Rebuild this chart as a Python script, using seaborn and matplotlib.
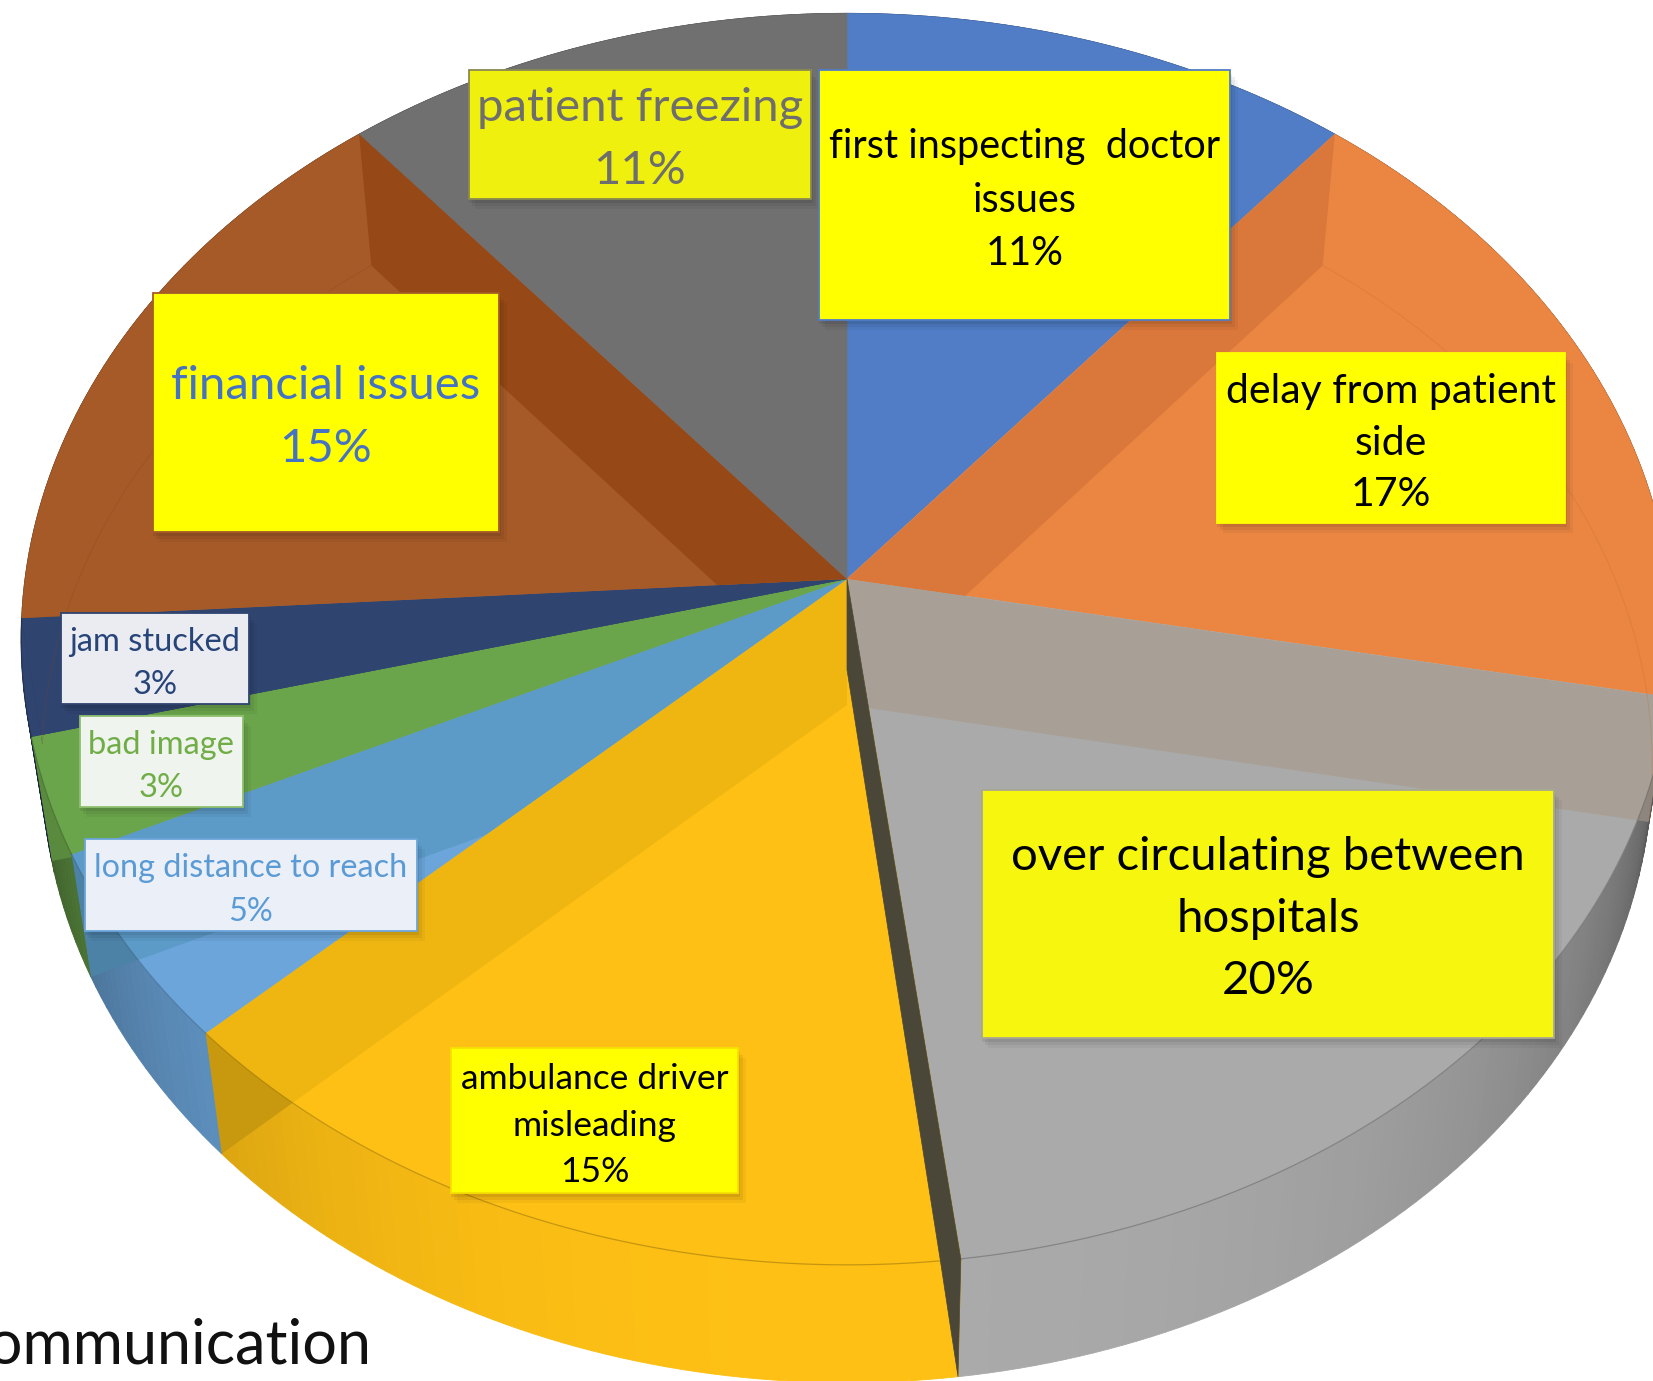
import numpy as np
import seaborn as sns
import matplotlib.pyplot as plt
from matplotlib.patches import Polygon, Rectangle

# %% data
labels = ["first inspecting  doctor\nissues", "delay from patient\nside",
          "over circulating between\nhospitals", "ambulance driver\nmisleading",
          "long distance to reach", "bad image", "jam stucked",
          "financial issues", "patient freezing"]
values = [11, 17, 20, 15, 5, 3, 3, 15, 11]

face_hex = ["#507dc6", "#ea8641", "#aaaaaa", "#fec014", "#6ba5da",
            "#6ba54b", "#2f446f", "#a55a28", "#707070"]
band_hex = ["#507dc6", "#da783c", "#a8a097", "#efb612", "#5c9bc8",
            "#6ba54b", "#2f446f", "#964816", "#707070"]

# label boxes (x0, x1, y0, y1 in pixels)
boxes = [(819, 1230, 70, 320), (1217, 1565, 353, 523), (982, 1554, 790, 1038),
         (451, 738, 1048, 1193), (85, 417, 839, 931), (80, 243, 716, 807),
         (61, 249, 613, 704), (153, 499, 293, 532), (469, 811, 70, 199)]
box_fill = ["#ffff00", "#ffff00", "#f6f60f", "#ffff00", "#ebf0f8",
            "#eff5ee", "#ebebf2", "#ffff00", "#f0f00f"]
box_edge = ["#507dc6", "#ffff00", "#a8a890", "#f5e000", "#6ba5da",
            "#8fc070", "#2f446f", "#a55a28", "#8a8a50"]
text_col = ["black", "black", "black", "black", "#5b9bd5",
            "#70ad47", "#264478", "#4472c4", "#6e6e6e"]
text_pt = [28.5, 29.5, 34, 25.5, 23.3, 23.5, 23.5, 34, 34]
text_gap = [1.54, 1.49, 1.58, 1.57, 1.58, 1.53, 1.53, 1.61, 1.61]

# pie geometry in pixels
CX, CY, RX, RY, PERSP = 847, 579, 822, 620, 0.096
DROP, XS, YS = 126, 0.975, 0.988

sns.set_theme(style="white")
plt.rcParams["font.family"] = ["Lato", "DejaVu Sans"]


def upper(theta):
    t = np.radians(theta)
    d = 1 + PERSP * np.sin(t)
    return np.column_stack([CX + RX * np.cos(t) / d, CY - RY * np.sin(t) / d])


def lower(theta):
    p = upper(theta)
    return np.column_stack([CX + XS * (p[:, 0] - CX), CY + DROP + YS * (p[:, 1] - CY)])


def shade(theta):
    d = np.abs(((theta - 270) + 180) % 360 - 180)   # degrees away from the front
    return np.clip(1 - 0.5 * (d / 80) ** 2.4, 0.3, 1)


# %% pie
fig = plt.figure(figsize=(16.53, 13.81), dpi=100)
ax = fig.add_axes([0, 0, 1, 1])
wedges, _ = ax.pie(values, colors=sns.color_palette(face_hex), startangle=90,
                   counterclock=False)
ax.set_aspect("auto")
ax.set_xlim(0, 1653)
ax.set_ylim(1381, 0)
ax.axis("off")

faces = sns.color_palette(face_hex)
bands = sns.color_palette(band_hex)
centre = np.array([[CX, CY]])
low_centre = np.array([[CX, CY + DROP]])

# side wall first, everything else paints over it
for w, col in zip(wedges, faces):
    w.set_visible(False)
    th = np.linspace(w.theta1, w.theta2, max(int(w.theta2 - w.theta1), 2) + 1)
    up, lo = upper(th), lower(th)
    for k in range(len(th) - 1):
        c = np.array(col) * shade((th[k] + th[k + 1]) / 2)
        ax.add_patch(Polygon([up[k], up[k + 1], lo[k + 1], lo[k]], fc=c, ec=c, lw=0.6, zorder=1))

for i, (w, fc, bc) in enumerate(zip(wedges, faces, bands)):
    th = np.linspace(w.theta1, w.theta2, 80)
    mid = (w.theta1 + w.theta2) / 2
    up, lo = upper(th), lower(th)
    ax.add_patch(Polygon(np.vstack([centre, up]), fc=fc, ec=fc, lw=0.5, zorder=2))

    # darker band along the radial edge that faces up the picture
    right_half = np.cos(np.radians(mid)) > 0
    front = np.sin(np.radians(mid)) < 0
    edge = w.theta2 if right_half else w.theta1
    rim_a, rim_b = upper(np.array([edge])), lower(np.array([edge]))
    quad = np.vstack([centre, rim_a, rim_b, low_centre])
    band = Polygon(quad, fc=bc, ec="none", zorder=3)
    ax.add_patch(band)
    if front:
        clip = Polygon(np.vstack([centre, up[:1], lo, up[-1:]]), transform=ax.transData)
    else:
        clip = Polygon(np.vstack([centre, up]), transform=ax.transData)
    band.set_clip_path(clip)

    if front:
        # the band is darker again where it crosses the side wall
        over_wall = Polygon(quad, fc="black", alpha=0.16, ec="none", zorder=3.5)
        ax.add_patch(over_wall)
        over_wall.set_clip_path(Polygon(np.vstack([up, lo[::-1]]), transform=ax.transData))

    # faint arcs: front rim, and the bottom circle seen through at the back
    if front:
        ax.plot(up[:, 0], up[:, 1], color=np.array(fc) * 0.6, lw=0.9, alpha=0.55, zorder=4)
    elif i != 0 and i != 8:
        ax.plot(lo[:, 0], lo[:, 1], color=np.array(fc) * 0.8, lw=0.8, alpha=0.25, zorder=4)

# dark wall where the grey slice is pulled out
split = wedges[2].theta1
a0, a1 = upper(np.array([split])), lower(np.array([split]))
a2 = upper(np.array([split - 1.3]))
knee = np.array([[CX, CY + DROP * 0.72]])
ax.add_patch(Polygon(np.vstack([centre, a0, a1, a2, knee]), fc="#4b4738", ec="#4b4738",
                     lw=0.5, zorder=5))

# %% labels
for (x0, x1, y0, y1), fill, edge, tc, pt, gap, name, v in zip(
        boxes, box_fill, box_edge, text_col, text_pt, text_gap, labels, values):
    for k, off in enumerate([10, 7, 4]):
        ax.add_patch(Rectangle((x0 + off - 4, y0 + off), x1 - x0 + 2, y1 - y0, fc="black",
                               alpha=0.04 + 0.015 * k, ec="none", zorder=6))
    ax.add_patch(Rectangle((x0, y0), x1 - x0, y1 - y0, fc=fill, ec=edge, lw=1.3, zorder=7))
    ax.text((x0 + x1) / 2, (y0 + y1) / 2 + 5, f"{name}\n{v}%", ha="center", va="center",
            color=tc, fontsize=pt, linespacing=gap, zorder=8)

ax.text(371, 1364, "Communication", ha="right", va="baseline", fontsize=44,
        color="#111111", zorder=9)

fig.savefig("out.png", dpi=100)
